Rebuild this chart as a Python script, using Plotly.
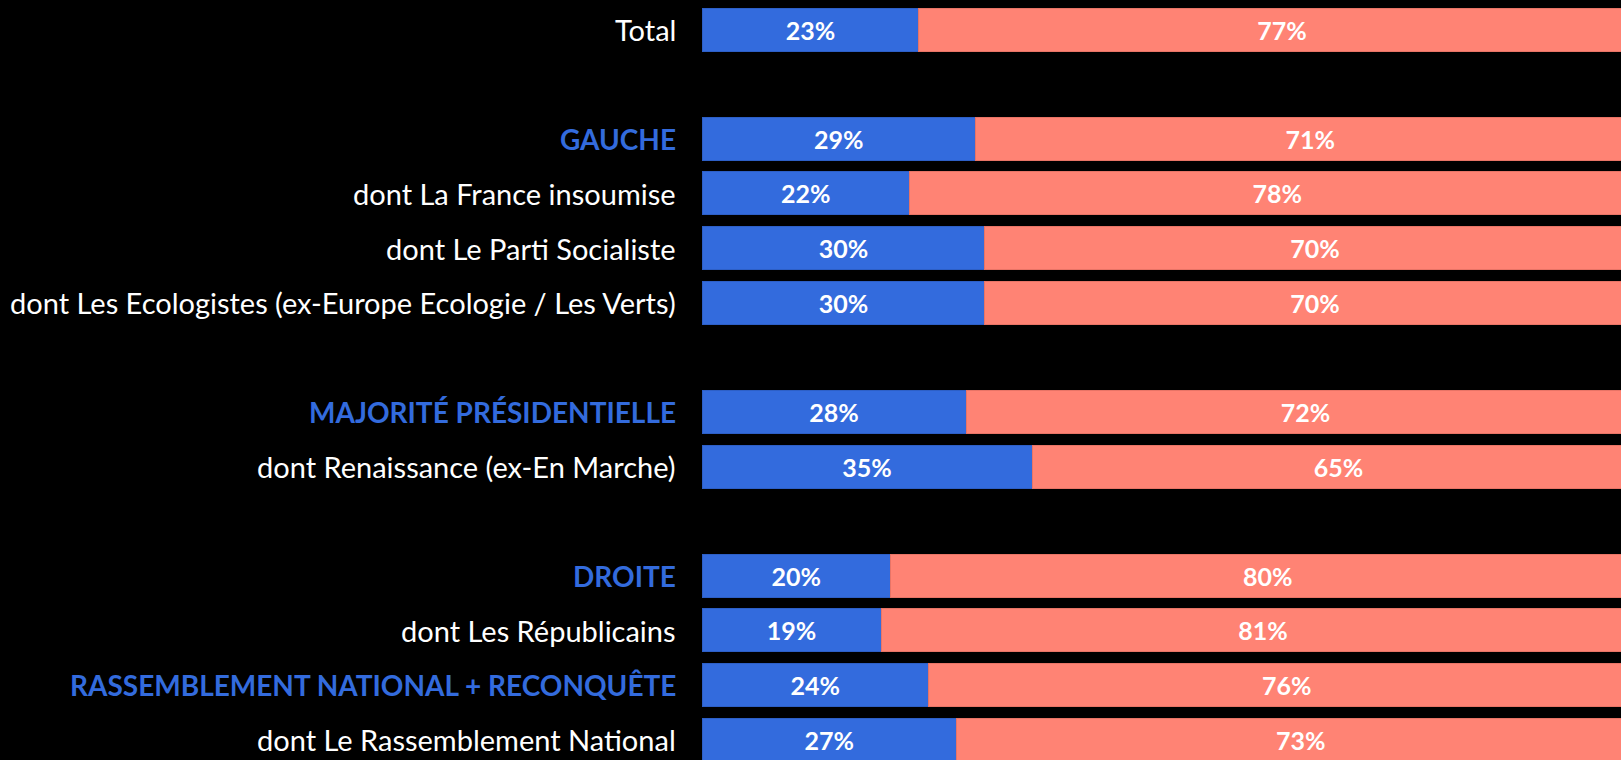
import plotly.graph_objects as go

# Data
categories = [
    "Total",
    "GAUCHE",
    "dont La France insoumise",
    "dont Le Parti Socialiste",
    "dont Les Ecologistes (ex-Europe Ecologie / Les Verts)",
    "MAJORITÉ PRÉSIDENTIELLE",
    "dont Renaissance (ex-En Marche)",
    "DROITE",
    "dont Les Républicains",
    "RASSEMBLEMENT NATIONAL + RECONQUÊTE",
    "dont Le Rassemblement National",
]
is_group = [False, True, False, False, False, True, False, True, False, True, False]
oui = [23, 29, 22, 30, 30, 28, 35, 20, 19, 24, 27]
non = [77, 71, 78, 70, 70, 72, 65, 80, 81, 76, 73]

# row order including blank spacer rows
row_order = [
    "Total", " ",
    "GAUCHE", "dont La France insoumise", "dont Le Parti Socialiste",
    "dont Les Ecologistes (ex-Europe Ecologie / Les Verts)", "  ",
    "MAJORITÉ PRÉSIDENTIELLE", "dont Renaissance (ex-En Marche)", "   ",
    "DROITE", "dont Les Républicains",
    "RASSEMBLEMENT NATIONAL + RECONQUÊTE", "dont Le Rassemblement National",
]

BLUE = "#336BDD"
SALMON = "#FF8374"
FONT = "Lato"

fig = go.Figure()
fig.add_trace(go.Bar(
    y=categories, x=oui, orientation="h", name="Oui",
    marker=dict(color=BLUE, line=dict(color="#2D5FC6", width=1)),
    text=[f"{v}%" for v in oui], textposition="inside", insidetextanchor="middle",
    textfont=dict(family=FONT, size=25, color="white", weight="bold"),
    constraintext="none", cliponaxis=False,
))
fig.add_trace(go.Bar(
    y=categories, x=non, orientation="h", name="Non",
    marker=dict(color=SALMON, line=dict(color="#E87466", width=1)),
    text=[f"{v}%" for v in non], textposition="inside", insidetextanchor="middle",
    textfont=dict(family=FONT, size=25, color="white", weight="bold"),
    constraintext="none", cliponaxis=False,
))

for cat, grp in zip(categories, is_group):
    fig.add_annotation(
        x=0, xref="paper", y=cat, yref="y", xanchor="right", yanchor="middle",
        xshift=-24, text=cat, showarrow=False,
        font=dict(family=FONT, size=28 if grp else 29,
                  color=BLUE if grp else "white", weight="bold" if grp else "normal"),
    )

px_per_row = 54.63
fig.update_layout(
    barmode="stack", bargap=0.213,
    width=1645, height=760,
    margin=dict(l=702, r=0, t=0, b=0, pad=0),
    paper_bgcolor="black", plot_bgcolor="black",
    showlegend=False,
    xaxis=dict(range=[0, 100], visible=False, fixedrange=True),
    yaxis=dict(categoryorder="array", categoryarray=row_order,
               range=[13 + 20.3 / px_per_row, -29.5 / px_per_row],
               showticklabels=False, showgrid=False, zeroline=False),
)

fig.write_html("out.html", config={"displayModeBar": False},
               post_script="document.body.style.margin='0';document.body.style.overflow='hidden';document.body.style.background='black';")
